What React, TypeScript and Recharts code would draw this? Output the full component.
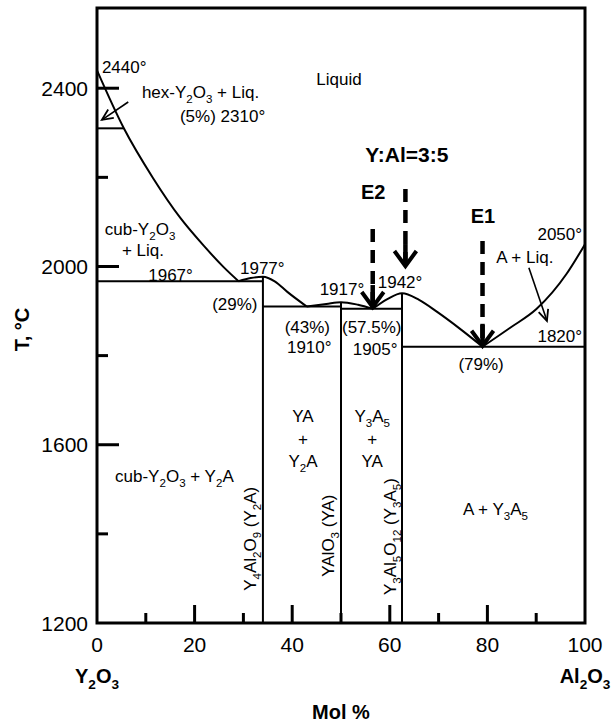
import React from "react";
import { ComposedChart, Line, Scatter, XAxis, YAxis, ReferenceArea } from "recharts";

// Y2O3 - Al2O3 phase diagram (mol % Al2O3 vs temperature)

const X_MIN = 0;
const X_MAX = 100;
const T_MIN = 1200;
const T_MAX = 2580;

const W = 613;
const H = 725;
const MARGIN = { top: 8, right: 28, bottom: 0, left: 0 };
const Y_AXIS_W = 97;
const X_AXIS_H = 102;
const PLOT_W = W - MARGIN.left - MARGIN.right - Y_AXIS_W;
const PLOT_H = H - MARGIN.top - MARGIN.bottom - X_AXIS_H;
const FONT = '"Liberation Sans", Arial, sans-serif';

const xTicks = [0, 10, 20, 30, 40, 50, 60, 70, 80, 90, 100];
const yTicks = [1200, 1400, 1600, 1800, 2000, 2200, 2400];

// liquidus branches
const liqY2O3 = [
  { x: 0, y: 2440 },
  { x: 5.5, y: 2310 },
  { x: 11.5, y: 2198 },
  { x: 17, y: 2110 },
  { x: 22, y: 2045 },
  { x: 26, y: 1998 },
  { x: 29, y: 1967 },
];
const domeY2A = [
  { x: 29, y: 1967 },
  { x: 31.5, y: 1974 },
  { x: 34, y: 1977 },
  { x: 36.5, y: 1966 },
  { x: 39, y: 1943 },
  { x: 43, y: 1910 },
];
const domeYA = [
  { x: 43, y: 1910 },
  { x: 47, y: 1916 },
  { x: 50, y: 1920 },
  { x: 53.5, y: 1914 },
  { x: 56.5, y: 1905 },
];
const domeYAG = [
  { x: 56.5, y: 1905 },
  { x: 59.5, y: 1927 },
  { x: 62.5, y: 1940 },
  { x: 66, y: 1925 },
  { x: 69.7, y: 1898 },
  { x: 74.4, y: 1860 },
  { x: 79, y: 1820 },
];
const liqAl2O3 = [
  { x: 79, y: 1820 },
  { x: 84.6, y: 1862 },
  { x: 90.1, y: 1905 },
  { x: 96.2, y: 1983 },
  { x: 100, y: 2050 },
];

// invariant lines and compounds
const hexLine = [{ x: 0, y: 2310 }, { x: 5.5, y: 2310 }];
const eut1967 = [{ x: 0, y: 1967 }, { x: 34, y: 1967 }];
const eut1910 = [{ x: 34, y: 1910 }, { x: 50, y: 1910 }];
const eut1905 = [{ x: 50, y: 1905 }, { x: 62.5, y: 1905 }];
const eut1820 = [{ x: 62.5, y: 1820 }, { x: 100, y: 1820 }];
const y2aLine = [{ x: 34, y: 1200 }, { x: 34, y: 1977 }];
const yaLine = [{ x: 50, y: 1200 }, { x: 50, y: 1920 }];
const yagLine = [{ x: 62.5, y: 1200 }, { x: 62.5, y: 1940 }];

const curves = [liqY2O3, domeY2A, domeYA, domeYAG, liqAl2O3];
const straights = [hexLine, eut1967, eut1910, eut1905, eut1820, y2aLine, yaLine, yagLine];

// dashed arrows: E2, Y:Al=3:5, E1
const dashedArrows = [
  { x: 56.5, from: 2084, to: 1909 },
  { x: 63.2, from: 2174, to: 2001 },
  { x: 79, from: 2057, to: 1822 },
];
// thin pointer arrows
const pointerArrows = [
  { from: { x: 6.4, y: 2369 }, to: { x: 1.0, y: 2329 } },
  { from: { x: 88.5, y: 1997 }, to: { x: 92.2, y: 1878 } },
];

type Note = { t: string; x: number; y: number; a?: string; bold?: boolean; size?: number; rot?: boolean };
const notes: Note[] = [
  { t: "Liquid", x: 49.6, y: 2422, a: "middle" },
  { t: "2440°", x: 1.0, y: 2449 },
  { t: "hex-Y_2O_3 + Liq.", x: 9.2, y: 2391 },
  { t: "(5%) 2310°", x: 17, y: 2339 },
  { t: "cub-Y_2O_3", x: 1.6, y: 2084 },
  { t: "+ Liq.", x: 5.1, y: 2037 },
  { t: "1967°", x: 10.5, y: 1981 },
  { t: "1977°", x: 29.3, y: 1997 },
  { t: "(29%)", x: 23.6, y: 1916 },
  { t: "(43%)", x: 43.1, y: 1864, a: "middle" },
  { t: "1910°", x: 43.5, y: 1820, a: "middle" },
  { t: "1917°", x: 50.2, y: 1950, a: "middle" },
  { t: "1942°", x: 62.1, y: 1965, a: "middle" },
  { t: "(57.5%)", x: 56.3, y: 1864, a: "middle" },
  { t: "1905°", x: 57.0, y: 1815, a: "middle" },
  { t: "(79%)", x: 78.7, y: 1781, a: "middle" },
  { t: "2050°", x: 99.4, y: 2073, a: "end" },
  { t: "A + Liq.", x: 81.8, y: 2021 },
  { t: "1820°", x: 99.4, y: 1844, a: "end" },
  { t: "YA", x: 42.2, y: 1665, a: "middle" },
  { t: "+", x: 42.2, y: 1613, a: "middle" },
  { t: "Y_2A", x: 42.2, y: 1564, a: "middle" },
  { t: "Y_3A_5", x: 56.4, y: 1665, a: "middle" },
  { t: "+", x: 56.4, y: 1613, a: "middle" },
  { t: "YA", x: 56.4, y: 1564, a: "middle" },
  { t: "cub-Y_2O_3 + Y_2A", x: 3.7, y: 1530 },
  { t: "A + Y_3A_5", x: 75, y: 1457 },
  { t: "Y_4Al_2O_9 (Y_2A)", x: 31.4, y: 1389, a: "middle", rot: true },
  { t: "YAlO_3 (YA)", x: 47.3, y: 1396, a: "middle", rot: true },
  { t: "Y_3Al_5O_12 (Y_3A_5)", x: 60, y: 1394, a: "middle", rot: true },
  { t: "Y:Al=3:5", x: 63.5, y: 2252, a: "middle", bold: true, size: 21 },
  { t: "E2", x: 56.6, y: 2167, a: "middle", bold: true, size: 20 },
  { t: "E1", x: 79.1, y: 2113, a: "middle", bold: true, size: 20 },
];

const pxPerX = PLOT_W / (X_MAX - X_MIN);
const pxPerT = PLOT_H / (T_MAX - T_MIN);

const heads = [
  ...dashedArrows.map((d) => ({ x: d.x, y: d.to, ang: 90, big: true })),
  ...pointerArrows.map((p) => ({
    x: p.to.x,
    y: p.to.y,
    ang: (Math.atan2(-(p.to.y - p.from.y) * pxPerT, (p.to.x - p.from.x) * pxPerX) * 180) / Math.PI,
    big: false,
  })),
];

function Rich({ x, y, text, size = 17, bold = false, anchor = "start", rotate = false }: any) {
  const parts: string[] = text.split(/(_\d+)/).filter(Boolean);
  const shift = size * 0.3;
  let down = false;
  const by = rotate ? y : y + size * 0.36;
  const bx = rotate ? x + size * 0.36 : x;
  return (
    <text
      x={bx}
      y={by}
      fontSize={size}
      fontWeight={bold ? 700 : 400}
      textAnchor={anchor}
      fontFamily={FONT}
      fill="#000"
      transform={rotate ? `rotate(-90 ${bx} ${by})` : undefined}
    >
      {parts.map((p, i) => {
        if (p.startsWith("_")) {
          const dy = down ? 0 : shift;
          down = true;
          return (
            <tspan key={i} dy={dy} fontSize={size * 0.68}>
              {p.slice(1)}
            </tspan>
          );
        }
        const dy = down ? -shift : 0;
        down = false;
        return (
          <tspan key={i} dy={dy}>
            {p}
          </tspan>
        );
      })}
    </text>
  );
}

const NoteShape = (p: any) => {
  const n = p.payload as Note;
  return <Rich x={p.cx} y={p.cy} text={n.t} size={n.size || 17} bold={n.bold} anchor={n.a || "start"} rotate={n.rot} />;
};

const HeadShape = (p: any) => {
  const { ang, big } = p.payload;
  const L = big ? 15 : 11;
  const w = big ? 11 : 5;
  return (
    <g transform={`translate(${p.cx},${p.cy}) rotate(${ang})`}>
      {big && <line x1={-22} y1={0} x2={-3} y2={0} stroke="#000" strokeWidth={4.5} />}
      <path d={`M ${-L} ${-w} L 0 0 L ${-L} ${w}`} fill="none" stroke="#000" strokeWidth={big ? 4 : 1.8} />
    </g>
  );
};

const BottomTick = (p: any) => {
  const v = p.payload.value;
  const major = v % 20 === 0;
  const edge = v === X_MIN || v === X_MAX;
  return (
    <g>
      {!edge && <line x1={p.x} x2={p.x} y1={p.y} y2={p.y - (major ? 18 : 10)} stroke="#000" strokeWidth={3} />}
      {major && (
        <text x={p.x} y={p.y + 29} textAnchor="middle" fontSize={21} fontFamily={FONT} fill="#000">
          {v}
        </text>
      )}
      {v === X_MIN && <Rich x={p.x} y={p.y + 53} text="Y_2O_3" size={20} bold anchor="middle" />}
      {v === X_MAX && <Rich x={p.x} y={p.y + 53} text="Al_2O_3" size={20} bold anchor="middle" />}
    </g>
  );
};

const TopTick = (p: any) => {
  const v = p.payload.value;
  if (v === X_MIN || v === X_MAX) return <g />;
  return <line x1={p.x} x2={p.x} y1={p.y} y2={p.y + (v % 20 === 0 ? 18 : 11)} stroke="#000" strokeWidth={3} />;
};

const LeftTick = (p: any) => {
  const v = p.payload.value;
  const major = v % 400 === 0;
  return (
    <g>
      {v !== T_MIN && <line x1={p.x} x2={p.x + (major ? 22 : 11)} y1={p.y} y2={p.y} stroke="#000" strokeWidth={3} />}
      {major && (
        <text x={p.x - 9} y={p.y + 7.5} textAnchor="end" fontSize={21} fontFamily={FONT} fill="#000">
          {v}
        </text>
      )}
    </g>
  );
};

const RightTick = (p: any) => {
  const v = p.payload.value;
  if (v === T_MIN) return <g />;
  return <line x1={p.x} x2={p.x - (v % 400 === 0 ? 24 : 14)} y1={p.y} y2={p.y} stroke="#000" strokeWidth={3} />;
};

const XLabel = (p: any) => {
  const vb = p.viewBox;
  return (
    <text x={vb.x + vb.width / 2} y={719} textAnchor="middle" fontSize={20} fontWeight={700} fontFamily={FONT} fill="#000">
      Mol %
    </text>
  );
};

const YLabel = (p: any) => {
  const vb = p.viewBox;
  const cx = vb.x + 29;
  const cy = vb.y + vb.height / 2 + 14;
  return (
    <text
      x={cx}
      y={cy}
      transform={`rotate(-90 ${cx} ${cy})`}
      textAnchor="middle"
      fontSize={20}
      fontWeight={700}
      fontFamily={FONT}
      fill="#000"
    >
      T, °C
    </text>
  );
};

export default function App() {
  return (
    <div style={{ position: "absolute", left: 0, top: 0, background: "#fff" }}>
      <ComposedChart width={W} height={H} margin={MARGIN}>
        <XAxis
          dataKey="x"
          type="number"
          domain={[X_MIN, X_MAX]}
          ticks={xTicks}
          interval={0}
          allowDataOverflow
          height={X_AXIS_H}
          axisLine={false}
          tickLine={false}
          tickSize={0}
          tickMargin={0}
          tick={(p: any) => <BottomTick {...p} />}
          label={<XLabel />}
        />
        <XAxis
          xAxisId="top"
          orientation="top"
          type="number"
          domain={[X_MIN, X_MAX]}
          ticks={xTicks}
          interval={0}
          allowDataOverflow
          height={0}
          axisLine={false}
          tickLine={false}
          tickSize={0}
          tickMargin={0}
          tick={(p: any) => <TopTick {...p} />}
        />
        <YAxis
          dataKey="y"
          type="number"
          domain={[T_MIN, T_MAX]}
          ticks={yTicks}
          interval={0}
          allowDataOverflow
          width={Y_AXIS_W}
          axisLine={false}
          tickLine={false}
          tickSize={0}
          tickMargin={0}
          tick={(p: any) => <LeftTick {...p} />}
          label={<YLabel />}
        />
        <YAxis
          yAxisId="right"
          orientation="right"
          type="number"
          domain={[T_MIN, T_MAX]}
          ticks={yTicks}
          interval={0}
          allowDataOverflow
          width={0}
          axisLine={false}
          tickLine={false}
          tickSize={0}
          tickMargin={0}
          tick={(p: any) => <RightTick {...p} />}
        />
        <ReferenceArea
          x1={X_MIN}
          x2={X_MAX}
          y1={T_MIN}
          y2={T_MAX}
          fill="none"
          fillOpacity={0}
          stroke="#000"
          strokeWidth={3}
          ifOverflow="visible"
        />
        {straights.map((d, i) => (
          <Line
            key={`s${i}`}
            data={d}
            dataKey="y"
            type="linear"
            stroke="#000"
            strokeWidth={2}
            dot={false}
            activeDot={false}
            isAnimationActive={false}
          />
        ))}
        {curves.map((d, i) => (
          <Line
            key={`c${i}`}
            data={d}
            dataKey="y"
            type="monotone"
            stroke="#000"
            strokeWidth={2}
            dot={false}
            activeDot={false}
            isAnimationActive={false}
          />
        ))}
        {dashedArrows.map((a, i) => (
          <Line
            key={`d${i}`}
            data={[
              { x: a.x, y: a.from },
              { x: a.x, y: a.to },
            ]}
            dataKey="y"
            type="linear"
            stroke="#000"
            strokeWidth={4.5}
            strokeDasharray="13 8"
            dot={false}
            activeDot={false}
            isAnimationActive={false}
          />
        ))}
        {pointerArrows.map((a, i) => (
          <Line
            key={`p${i}`}
            data={[a.from, a.to]}
            dataKey="y"
            type="linear"
            stroke="#000"
            strokeWidth={1.6}
            dot={false}
            activeDot={false}
            isAnimationActive={false}
          />
        ))}
        <Scatter data={heads} shape={(p: any) => <HeadShape {...p} />} isAnimationActive={false} />
        <Scatter data={notes} shape={(p: any) => <NoteShape {...p} />} isAnimationActive={false} />
      </ComposedChart>
    </div>
  );
}
